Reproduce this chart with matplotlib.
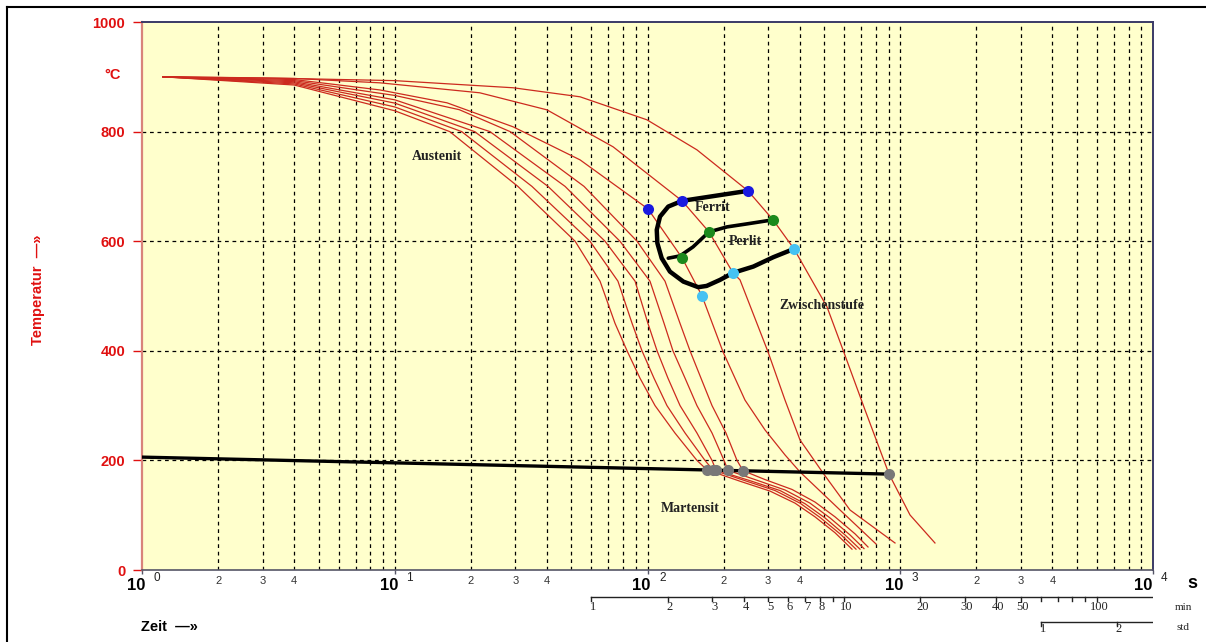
import matplotlib
matplotlib.use("Agg")
import matplotlib.pyplot as plt
from matplotlib.lines import Line2D
from matplotlib.ticker import NullLocator

# ---------------------------------------------------------------------------
# Cooling curves (time in s, temperature in °C)
# ---------------------------------------------------------------------------
curve_1_t = [1.21, 4, 10, 16.5, 30.7, 51.7, 64.9, 74.4, 83.0, 93.4, 107.1, 128.4,
             156.9, 171.9, 232.3, 305.3, 383.4, 460.0, 552.0, 644.3]
curve_1_T = [900, 885, 838, 800, 700, 600, 527, 450, 400, 350, 300, 250,
             200, 182.8, 162, 144, 122, 97, 68, 38]

curve_2_t = [1.21, 4, 10, 18.4, 34.9, 59.2, 76.4, 86.9, 95.1, 106.1, 119.4, 140.8,
             168.8, 181.6, 243.1, 319.5, 401.2, 481.4, 577.6, 668.3]
curve_2_T = [900, 887, 845, 800, 700, 600, 527, 450, 400, 350, 300, 250,
             200, 182.5, 163, 145, 122, 96, 66, 38]

curve_3_t = [1.21, 4, 10, 20.7, 40.4, 67.9, 89.3, 100.4, 109.1, 120.5, 134.5, 156.9,
             180.0, 186.7, 254.4, 334.4, 419.9, 503.8, 604.5, 693.1]
curve_3_T = [900, 889, 852, 800, 700, 600, 527, 450, 400, 350, 300, 250,
             200, 182.3, 163, 145, 121, 95, 64, 38]

curve_4_t = [1.21, 4, 10, 23.8, 47.2, 77.8, 102.3, 116.3, 126.1, 140.8, 156.9, 180.0,
             200.8, 208.2, 266.3, 350.0, 439.5, 527.4, 632.7, 718.8]
curve_4_T = [900, 891, 858, 800, 700, 600, 527, 450, 400, 350, 300, 250,
             200, 181.9, 165, 146, 122, 95, 64, 39]

curve_5_t = [1.21, 4, 10, 18, 28.6, 56.1, 90.9, 117.3, 134.5, 147.3, 162.8, 180.0,
             204.4, 226.0, 238.7, 291.7, 373.0, 460.0, 552.0, 662.2, 745.5]
curve_5_T = [900, 893, 866, 840, 800, 700, 600, 527, 450, 400, 350, 300,
             250, 200, 181.3, 165, 147, 124, 97, 66, 42]

curve_6_t = [1.21, 4, 8.74, 16.1, 29.4, 54.1, 100.4, 137.0, 164.3, 199.0, 243.1,
             291.7, 350.0, 401.2, 577.6, 801.9]
curve_6_T = [900, 895, 876, 852.5, 808.7, 748.4, 659, 569.6, 500.2, 398, 310,
             255.6, 210, 178.9, 109.5, 47.5]

curve_7_t = [1.21, 4, 8.74, 21.7, 40.0, 73.1, 137.0, 175.1, 217.9, 232.3, 299.8,
             350.0, 401.2, 494.7, 632.7, 953.4]
curve_7_T = [900, 897, 889, 870.8, 839.7, 772.2, 673.6, 617, 542.2, 529.4, 398,
             310, 237.3, 177.1, 109.5, 49.3]

curve_8_t = [1.21, 3, 10, 29.4, 54.1, 99.5, 156.9, 249.8, 313.8, 379.9, 513.2,
             593.6, 725.4, 902.6, 1093, 1372]
curve_8_T = [900, 898, 893, 880, 863.5, 821.5, 766.7, 691.9, 639, 586, 480.1,
             401.6, 292.1, 175.2, 100.4, 49.3]

# Martensite start line
ms_line_t = [1, 903]
ms_line_T = [206, 175]

# Transformation start lines: ferrite start joined to bainite start, and pearlite start
start_line_t = [249.8, 137.0, 120.8, 112.1, 108.8, 109.4, 113.8, 122.7, 138.6,
                158.8, 171.4, 193.6, 217.9, 262.2, 314.6, 379.9]
start_line_T = [691.9, 673.6, 663.2, 645, 620.7, 596.4, 569, 544.5, 526.3,
                516.1, 518.4, 529.4, 542.2, 553.7, 570.8, 586]
pearlite_line_t = [120.8, 134.5, 151.4, 175.1, 206.3, 247.5, 313.8]
pearlite_line_T = [569, 573.2, 589.6, 617, 626.1, 631.6, 639]

# Transformation points on the cooling curves
ferrite_t = [100.4, 137.0, 249.8]
ferrite_T = [659, 673.6, 691.9]
pearlite_t = [137.0, 175.1, 313.8]
pearlite_T = [569.6, 617, 639]
bainite_t = [164.3, 217.9, 379.9]
bainite_T = [500.2, 542.2, 586]
martensite_t = [171.9, 181.6, 186.7, 208.2, 238.7, 902.6]
martensite_T = [182.8, 182.5, 182.3, 181.9, 181.3, 175.2]

# Axis labelling
y_ticks = [0, 200, 400, 600, 800, 1000]
decades = [0, 1, 2, 3, 4]
minor_labels = [2, 3, 4]
min_ticks = [1, 2, 3, 4, 5, 6, 7, 8, 9, 10, 20, 30, 40, 50, 60, 70, 80, 90, 100]
min_labels = [1, 2, 3, 4, 5, 6, 7, 8, 10, 20, 30, 40, 50, 100]
std_ticks = [1, 2]

# ---------------------------------------------------------------------------
W, H, DPI = 1206, 642, 100
RED = '#e01010'
CURVE = '#cc2a1e'
SANS = 'Liberation Sans'
SERIF = 'Liberation Serif'

fig = plt.figure(figsize=(W / DPI, H / DPI), dpi=DPI)
fig.patch.set_facecolor('white')


def fx(px):
    return px / W


def fy(py):
    return 1 - py / H


ax = fig.add_axes([fx(142), fy(570), fx(1153) - fx(142), fy(22) - fy(570)])
ax.set_xscale('log')
ax.set_xlim(1, 1e4)
ax.set_ylim(0, 1000)
ax.set_facecolor('#ffffcc')

# dashed grid
dash = (0, (3, 3))
for k in range(4):
    for m in range(1, 10):
        x = m * 10 ** k
        if x == 1:
            continue
        ax.axvline(x, color='black', lw=0.9, ls=dash, zorder=1)
for T in y_ticks[1:-1]:
    ax.axhline(T, color='black', lw=0.9, ls=dash, zorder=1)

# cooling curves
curves = [(curve_1_t, curve_1_T), (curve_2_t, curve_2_T), (curve_3_t, curve_3_T),
          (curve_4_t, curve_4_T), (curve_5_t, curve_5_T), (curve_6_t, curve_6_T),
          (curve_7_t, curve_7_T), (curve_8_t, curve_8_T)]
for t, T in curves:
    ax.plot(t, T, color=CURVE, lw=0.9, zorder=2, solid_joinstyle='round')

# martensite start line and transformation lines
ax.plot(ms_line_t, ms_line_T, color='black', lw=2.4, zorder=3)
ax.plot(start_line_t, start_line_T, color='black', lw=3.2, zorder=3,
        solid_capstyle='round', solid_joinstyle='round')
ax.plot(pearlite_line_t, pearlite_line_T, color='black', lw=2.6, zorder=3,
        solid_capstyle='round', solid_joinstyle='round')

# transformation points
ax.plot(ferrite_t, ferrite_T, 'o', color='#1a1ae0', ms=8, mec='none', zorder=4)
ax.plot(pearlite_t, pearlite_T, 'o', color='#1c8a1c', ms=8, mec='none', zorder=4)
ax.plot(bainite_t, bainite_T, 'o', color='#45c2f2', ms=8, mec='none', zorder=4)
ax.plot(martensite_t, martensite_T, 'o', color='#787878', ms=8, mec='none', zorder=4)

# phase labels
label_kw = dict(ha='center', va='center', family=SERIF, fontweight='bold',
                fontsize=10, color='#222222', zorder=5)
ax.text(14.7, 754, 'Austenit', **label_kw)
ax.text(181.6, 660.8, 'Ferrit', **label_kw)
ax.text(243.1, 598.8, 'Perlit', **label_kw)
ax.text(490.2, 481.9, 'Zwischenstufe', **label_kw)
ax.text(147.3, 111.4, 'Martensit', **label_kw)

# spines
ax.spines['left'].set_color('#d9837a')
ax.spines['left'].set_linewidth(1.6)
ax.spines['bottom'].set_color('#555566')
ax.spines['bottom'].set_linewidth(1.2)
ax.spines['top'].set_color('#3a3a66')
ax.spines['top'].set_linewidth(1.4)
ax.spines['right'].set_color('#3a3a66')
ax.spines['right'].set_linewidth(1.4)

# y axis
ax.set_yticks(y_ticks)
ax.set_yticklabels([str(v) for v in y_ticks])
ax.tick_params(axis='y', colors=RED, length=6.5, width=1, pad=5.5, labelsize=10.5)
for lbl in ax.get_yticklabels():
    lbl.set_fontweight('bold')
    lbl.set_family(SANS)
    lbl.set_color(RED)

# x axis: labels drawn as text
ax.set_xticks([10 ** k for k in decades])
ax.set_xticklabels([])
ax.xaxis.set_minor_locator(NullLocator())
ax.tick_params(axis='x', length=3, width=1, color='#555566')

for k in decades:
    dx = -10 if k == 4 else -6
    ax.annotate('10', xy=(10 ** k, 0), xycoords=('data', 'axes fraction'),
                xytext=(dx, -16), textcoords='offset pixels', ha='center', va='center',
                fontsize=12, fontweight='bold', family=SANS, annotation_clip=False)
    ax.annotate(str(k), xy=(10 ** k, 0), xycoords=('data', 'axes fraction'),
                xytext=(dx + 21, -8), textcoords='offset pixels', ha='center',
                va='center', fontsize=8.5, family=SANS, color='#222222',
                annotation_clip=False)
for k in decades[:-1]:
    for m in minor_labels:
        ax.annotate(str(m), xy=(m * 10 ** k, 0), xycoords=('data', 'axes fraction'),
                    xytext=(0, -11), textcoords='offset pixels', ha='center',
                    va='center', fontsize=8, family=SANS, color='#333333',
                    annotation_clip=False)

fig.text(fx(1192), fy(584), 's', ha='center', va='center', fontsize=13,
         fontweight='bold', family=SANS)
fig.text(fx(141), fy(627), 'Zeit  —»', ha='left', va='center', fontsize=10.5,
         fontweight='bold', family=SANS)
fig.text(fx(38), fy(290), 'Temperatur  —»', rotation=90, ha='center', va='center',
         fontsize=10.5, fontweight='bold', family=SANS, color=RED)
fig.text(fx(113), fy(75), '°C', ha='center', va='center', fontsize=10.5,
         fontweight='bold', family=SANS, color=RED)

# minute / hour rulers below the time axis
axr = fig.add_axes([fx(142), fy(640), fx(1153) - fx(142), fy(588) - fy(640)])
axr.set_xscale('log')
axr.set_xlim(1, 1e4)
axr.set_ylim(640, 588)
axr.axis('off')
ruler = dict(color='#222222', lw=1)
axr.plot([60, 1e4], [597, 597], **ruler)
for m in min_ticks:
    axr.plot([m * 60, m * 60], [597, 601], **ruler)
for m in min_labels:
    axr.annotate(str(m), xy=(m * 60, 607), xytext=(2, 0), textcoords='offset pixels',
                 ha='center', va='center', fontsize=9, family=SERIF, color='#222222',
                 annotation_clip=False)
axr.plot([3600, 1e4], [622, 622], **ruler)
for h in std_ticks:
    axr.plot([h * 3600, h * 3600], [622, 626], **ruler)
    axr.annotate(str(h), xy=(h * 3600, 629), xytext=(2, 0), textcoords='offset pixels',
                 ha='center', va='center', fontsize=9, family=SERIF, color='#222222',
                 annotation_clip=False)
fig.text(fx(1183), fy(607), 'min', ha='center', va='center', fontsize=8,
         family=SERIF, color='#222222')
fig.text(fx(1183), fy(628), 'std', ha='center', va='center', fontsize=8,
         family=SERIF, color='#222222')

# outer frame
fig.add_artist(Line2D([fx(7), fx(7)], [fy(7), 0], color='black', lw=1.5))
fig.add_artist(Line2D([fx(7), 1], [fy(7), fy(7)], color='black', lw=1.5))

fig.savefig('out.png', dpi=DPI)
